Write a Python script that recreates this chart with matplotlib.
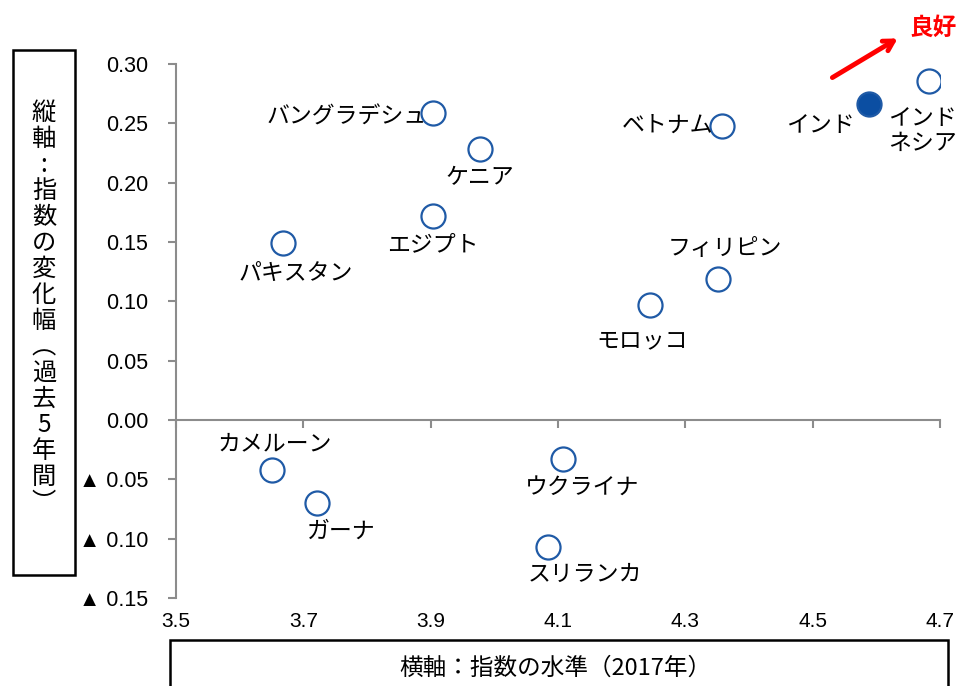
import matplotlib.pyplot as plt
from matplotlib.patches import Rectangle

plt.rcParams['font.family'] = ['Noto Sans CJK JP', 'DejaVu Sans']

# data
countries = ['バングラデシュ', 'ケニア', 'エジプト', 'パキスタン', 'ベトナム', 'インド',
             'インド\nネシア', 'フィリピン', 'モロッコ', 'カメルーン', 'ガーナ',
             'ウクライナ', 'スリランカ']
level = [3.903, 3.977, 3.903, 3.668, 4.357, 4.588, 4.683, 4.351, 4.245,
         3.651, 3.722, 4.108, 4.084]
change = [0.259, 0.228, 0.172, 0.149, 0.248, 0.266, 0.286, 0.119, 0.097,
          -0.042, -0.070, -0.033, -0.107]
highlight = 'インド'

xticks = [3.5, 3.7, 3.9, 4.1, 4.3, 4.5, 4.7]
yticks = [0.30, 0.25, 0.20, 0.15, 0.10, 0.05, 0.00, -0.05, -0.10, -0.15]
ytick_labels = ['0.30', '0.25', '0.20', '0.15', '0.10', '0.05', '0.00',
                '▲ 0.05', '▲ 0.10', '▲ 0.15']

# label placement (offset in points, alignment)
label_pos = [(-4, -3, 'right'), (0, -20, 'center'), (0, -21, 'center'),
             (9, -22, 'center'), (-6, 0, 'right'), (-35, -15, 'center'),
             (-5, -36, 'center'), (5, 22, 'center'), (-6, -26, 'center'),
             (2, 19, 'center'), (17, -20, 'center'), (14, -20, 'center'),
             (27, -20, 'center')]

fig = plt.figure(figsize=(9.6, 6.86), dpi=100)
ax = fig.add_axes([176/960, 88/686, 764/960, 534/686])

blue = '#1F5AA6'
for name, x, y, (dx, dy, ha) in zip(countries, level, change, label_pos):
    fc = '#0B4EA2' if name == highlight else 'white'
    ax.scatter(x, y, s=300, facecolor=fc, edgecolor=blue, linewidth=1.6, zorder=3)
    ax.annotate(name, (x, y), xytext=(dx, dy), textcoords='offset points',
                ha=ha, va='center', fontsize=16.5, linespacing=1.1)

ax.set_xlim(3.5, 4.7)
ax.set_ylim(-0.15, 0.30)

gray = '#8C8C8C'
for s in ['top', 'right']:
    ax.spines[s].set_visible(False)
ax.spines['left'].set_color(gray)
ax.spines['left'].set_linewidth(1.5)
ax.spines['bottom'].set_position(('data', 0))
ax.spines['bottom'].set_color(gray)
ax.spines['bottom'].set_linewidth(1.5)

ax.set_yticks(yticks)
ax.set_yticklabels(ytick_labels, fontfamily=['Liberation Sans', 'DejaVu Sans'], fontsize=15.5)
ax.tick_params(axis='y', direction='out', length=6, width=1.5, color=gray, pad=14)

ax.set_xticks(xticks)
ax.tick_params(axis='x', direction='out', length=6, width=1.5, color=gray, labelbottom=False)

sec = ax.secondary_xaxis('bottom')
sec.set_xticks(xticks)
sec.set_xticklabels([f'{t:.1f}' for t in xticks],
                    fontfamily=['Liberation Sans', 'DejaVu Sans'], fontsize=15)
sec.spines['bottom'].set_visible(False)
sec.tick_params(length=0, pad=10)

# axis title boxes
fig.patches.append(Rectangle((13/960, 1 - 575/686), 62/960, 525/686, transform=fig.transFigure,
                             fill=False, edgecolor='black', linewidth=1.8))
fig.text(44/960, 1 - 308/686, '\n'.join('縦軸:指数の変化幅︵過去5年間︶'),
         ha='center', va='center', fontsize=17.5, linespacing=1.0)

fig.patches.append(Rectangle((170/960, -0.05), 778/960, 1 - 640/686 + 0.05,
                             transform=fig.transFigure, fill=False,
                             edgecolor='black', linewidth=1.8))
fig.text(555/960, 1 - 668/686, '横軸：指数の水準（2017年）', ha='center', va='center', fontsize=17)

# "good" arrow
ax.annotate('', xy=(900/960, 1 - 37/686), xytext=(830/960, 1 - 79/686),
            xycoords='figure fraction', textcoords='figure fraction',
            arrowprops=dict(arrowstyle='->,head_length=0.7,head_width=0.4',
                            color='#FF0000', lw=3.5))
fig.text(933/960, 1 - 28/686, '良好', color='#FF0000', fontsize=17,
         fontweight='bold', ha='center', va='center')

fig.savefig('out.png', dpi=100)
